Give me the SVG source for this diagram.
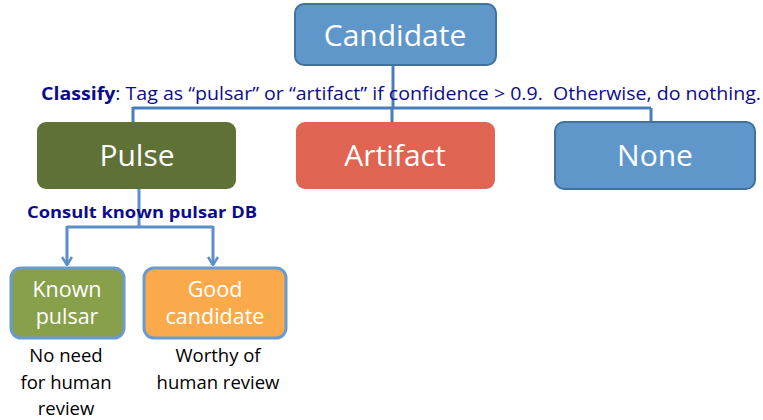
<svg xmlns="http://www.w3.org/2000/svg" width="763" height="420" viewBox="0 0 763 420">
<defs>
<style>
.t{font-family:"Open Sans","Liberation Sans",sans-serif;text-anchor:middle}
.big{font-size:30px;fill:#ffffff}
.mid{font-size:21.5px;fill:#ffffff}
.note{font-size:18.5px;fill:#000000}
.lbl{font-family:"Open Sans","Liberation Sans",sans-serif;fill:#0c0c8a}
.conn{fill:none;stroke:#4a7ebb;stroke-width:3}
.conn2{fill:none;stroke:#5b8fc9;stroke-width:3}
</style>
<marker id="arr" viewBox="0 0 10 12" refX="9" refY="6" markerWidth="10" markerHeight="12" markerUnits="userSpaceOnUse" orient="auto">
<path d="M1,1 L9,6 L1,11" fill="none" stroke="#5b8fc9" stroke-width="2.5"/>
</marker>
</defs>
<rect width="763" height="420" fill="#ffffff"/>
<g id="connectors">
<path class="conn" d="M393,65 V108 M133,108 H651 M133,107 V122 M392,108 V122 M651,108 V122"/>
<path class="conn2" d="M139,189 V227 M67,227 H213"/>
<path class="conn2" d="M67,226 V265" marker-end="url(#arr)"/>
<path class="conn2" d="M213,226 V265" marker-end="url(#arr)"/>
</g>
<g id="label-classify">
<text class="lbl" x="41" y="100" font-size="17.5" style="white-space:pre" textLength="720" lengthAdjust="spacingAndGlyphs"><tspan font-weight="bold">Classify</tspan>: Tag as “pulsar” or “artifact” if confidence &gt; 0.9.  Otherwise, do nothing.</text>
</g>
<g id="label-consult">
<text class="lbl" x="27" y="218" font-size="16.5" font-weight="bold" textLength="230" lengthAdjust="spacingAndGlyphs">Consult known pulsar DB</text>
</g>
<g id="candidate">
<rect x="295" y="4" width="201" height="61" rx="9" fill="#6097cb" stroke="#41719c" stroke-width="2"/>
<text class="t big" x="395" y="46">Candidate</text>
</g>
<g id="pulse">
<rect x="37" y="122" width="199" height="67" rx="9" fill="#5f7136"/>
<text class="t big" x="137" y="166">Pulse</text>
</g>
<g id="artifact">
<rect x="296" y="122" width="199" height="67" rx="9" fill="#e06452"/>
<text class="t big" x="395" y="166">Artifact</text>
</g>
<g id="none">
<rect x="555" y="122" width="200" height="67" rx="9" fill="#6097cb" stroke="#41719c" stroke-width="2"/>
<text class="t big" x="655" y="166">None</text>
</g>
<g id="known-pulsar">
<rect x="11" y="268" width="113" height="70" rx="10" fill="#89a04b" stroke="#6a9bd0" stroke-width="3"/>
<text class="t mid" x="67" y="297">Known</text>
<text class="t mid" x="67" y="324">pulsar</text>
</g>
<g id="good-candidate">
<rect x="144" y="268" width="142" height="70" rx="10" fill="#fbaa4b" stroke="#6a9bd0" stroke-width="3"/>
<text class="t mid" x="215" y="297">Good</text>
<text class="t mid" x="215" y="324">candidate</text>
</g>
<g id="note-known">
<text class="t note" x="66" y="362">No need</text>
<text class="t note" x="66" y="389">for human</text>
<text class="t note" x="66" y="415">review</text>
</g>
<g id="note-good">
<text class="t note" x="218" y="362">Worthy of</text>
<text class="t note" x="218" y="389">human review</text>
</g>
</svg>
